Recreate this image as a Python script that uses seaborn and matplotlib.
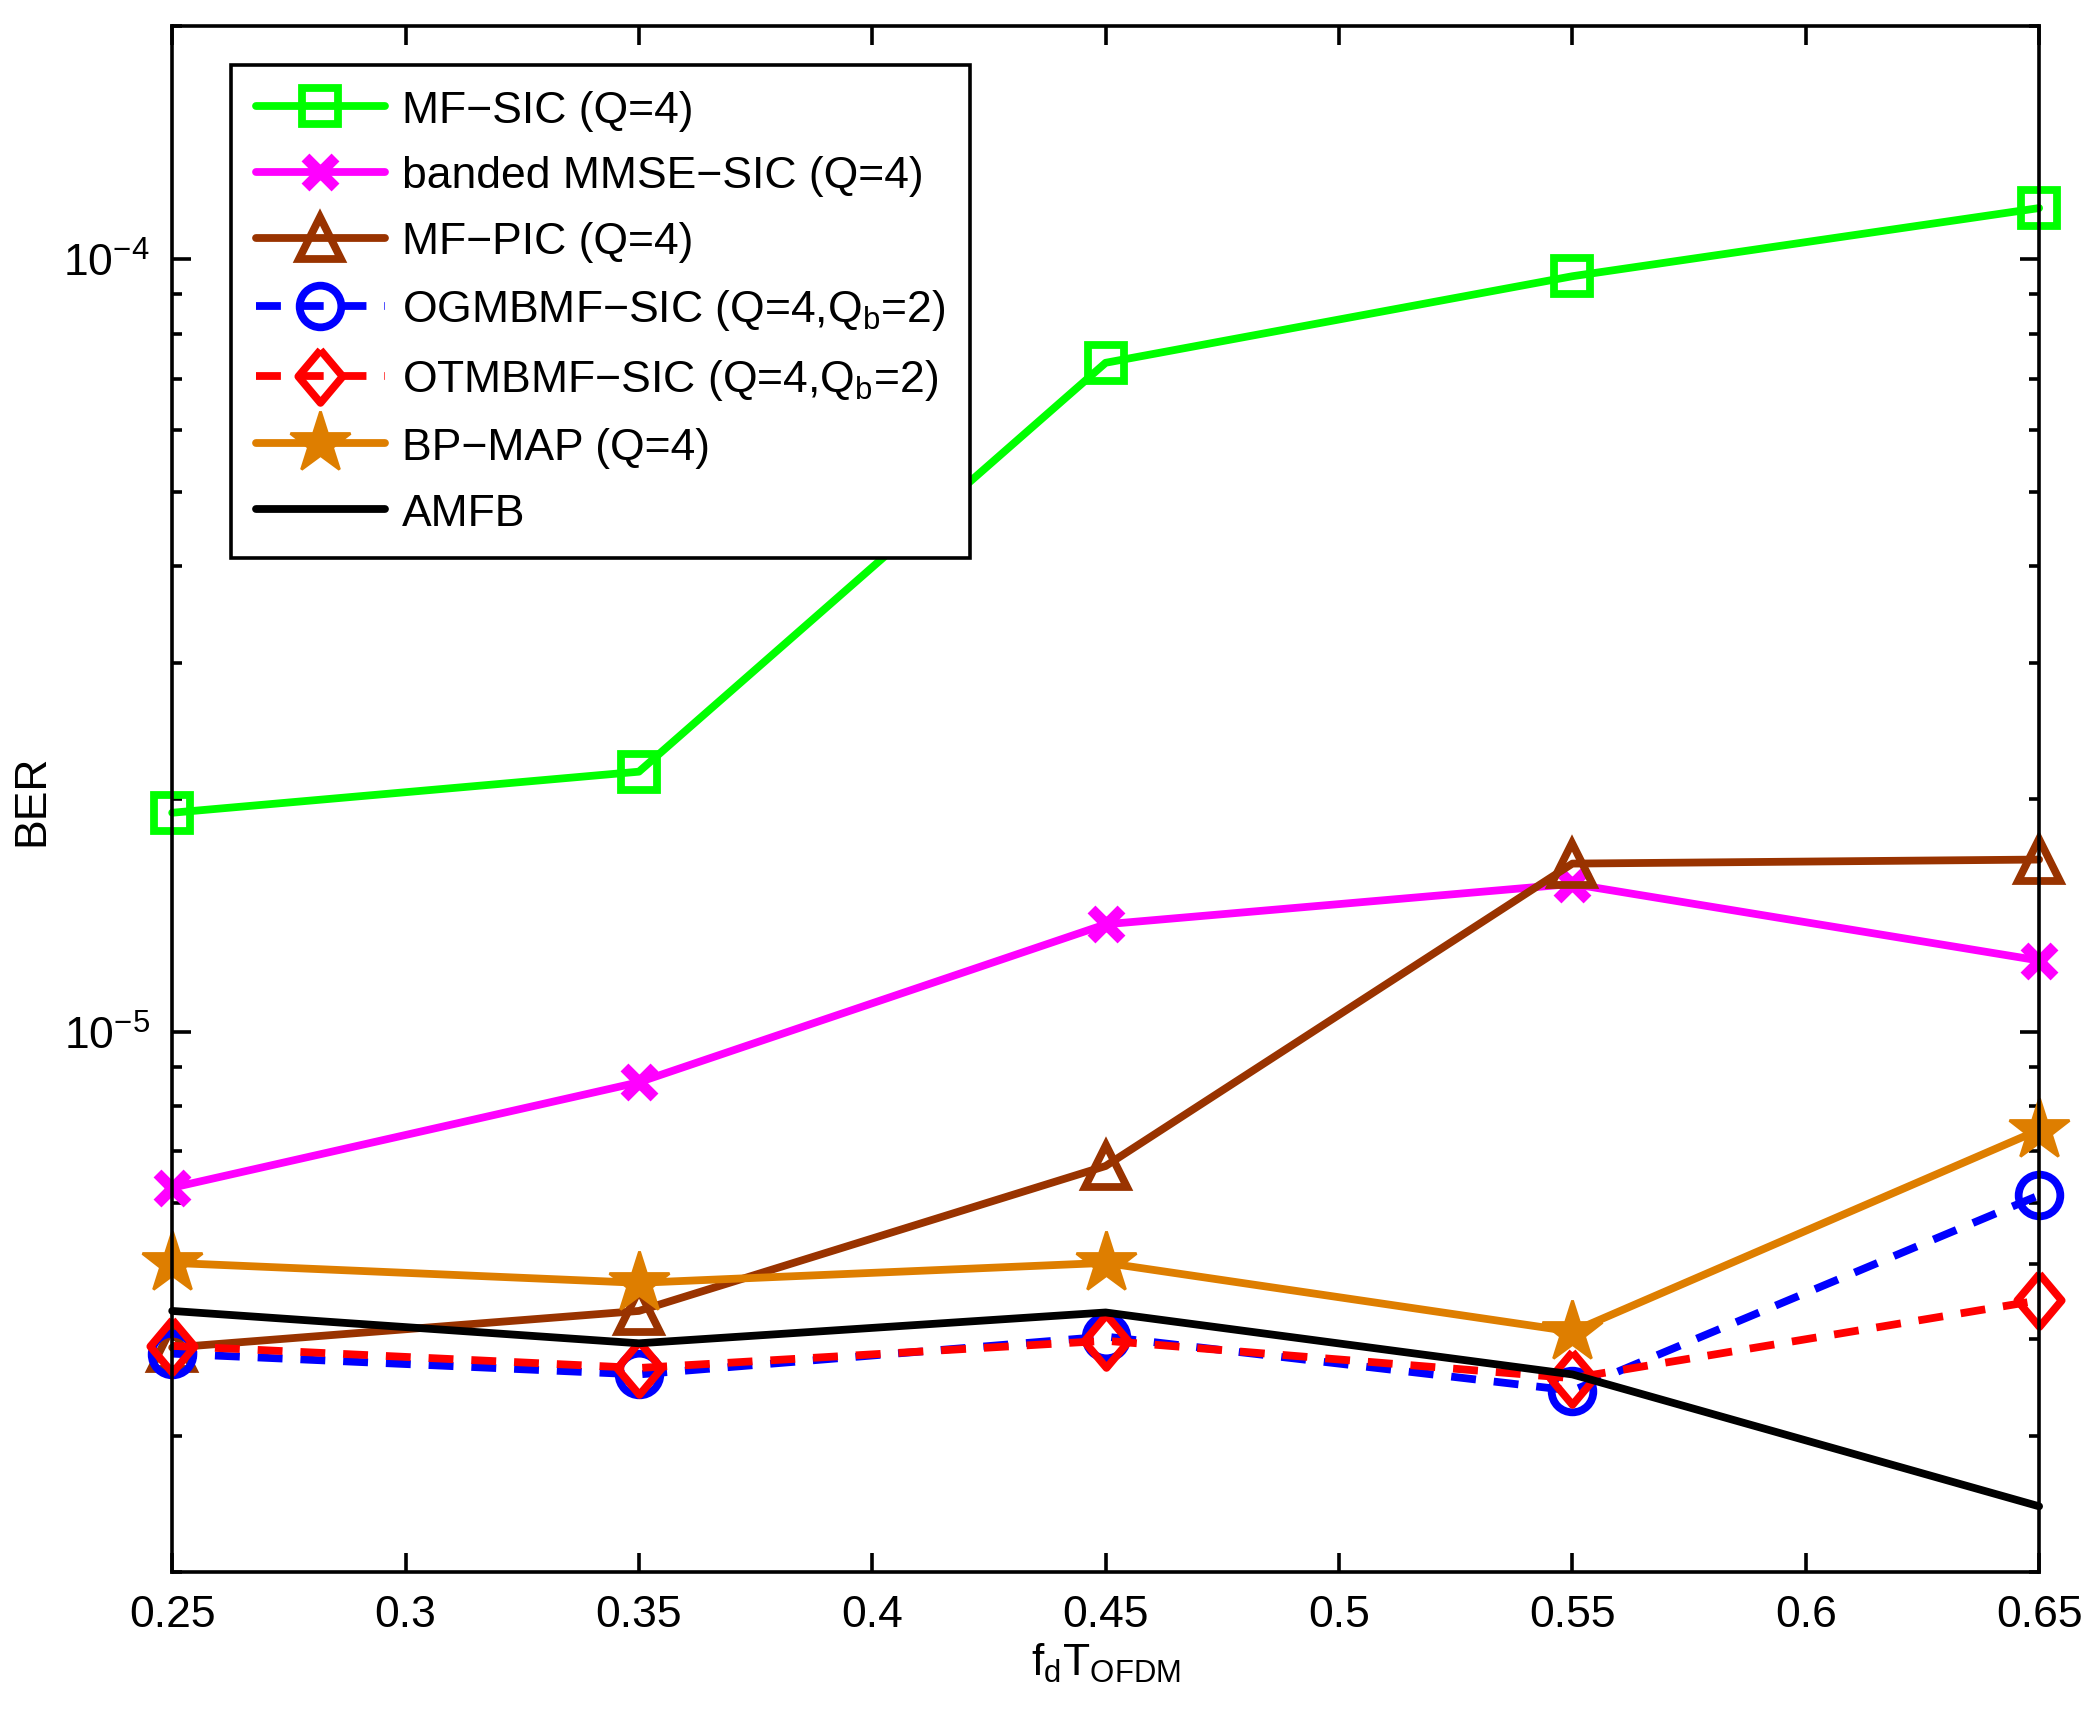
import numpy as np
import pandas as pd
import seaborn as sns
import matplotlib.pyplot as plt

# x axis: normalised Doppler
fd_t = [0.25, 0.35, 0.45, 0.55, 0.65]

# BER curves
ber_mf_sic = [1.92e-5, 2.17e-5, 7.34e-5, 9.5e-5, 1.164e-4]
ber_mmse_sic = [6.28e-6, 8.6e-6, 1.377e-5, 1.553e-5, 1.236e-5]
ber_mf_pic = [3.90e-6, 4.35e-6, 6.7e-6, 1.65e-5, 1.67e-5]
ber_ogmbmf = [3.83e-6, 3.60e-6, 4.03e-6, 3.43e-6, 6.14e-6]
ber_otmbmf = [3.92e-6, 3.67e-6, 3.98e-6, 3.56e-6, 4.49e-6]
ber_bp_map = [5.02e-6, 4.73e-6, 5.02e-6, 4.09e-6, 7.46e-6]
ber_amfb = [4.35e-6, 3.95e-6, 4.33e-6, 3.60e-6, 2.43e-6]

labels = ['MF\u2212SIC (Q=4)',
          'banded MMSE\u2212SIC (Q=4)',
          'MF\u2212PIC (Q=4)',
          'OGMBMF\u2212SIC (Q=4,Q$_\\mathregular{b}$=2)',
          'OTMBMF\u2212SIC (Q=4,Q$_\\mathregular{b}$=2)',
          'BP\u2212MAP (Q=4)',
          'AMFB']

sns.set_style("ticks")
plt.rcParams['font.family'] = ['Liberation Sans', 'DejaVu Sans']
plt.rcParams['mathtext.fontset'] = 'custom'
plt.rcParams['mathtext.rm'] = 'Liberation Sans'
plt.rcParams['mathtext.it'] = 'Liberation Sans'
plt.rcParams['xtick.direction'] = 'in'
plt.rcParams['ytick.direction'] = 'in'
plt.rcParams['text.color'] = 'black'
plt.rcParams['axes.labelcolor'] = 'black'
plt.rcParams['xtick.color'] = 'black'
plt.rcParams['ytick.color'] = 'black'
plt.rcParams['axes.edgecolor'] = 'black'

fig = plt.figure(figsize=(10.5, 8.575), dpi=200)
ax = fig.add_axes([0.082, 0.083, 0.889, 0.901])

# MATLAB-like diamond, a bit taller than wide
diamond = [(0, 1), (0.84, 0), (0, -1), (-0.84, 0), (0, 1)]

# style per curve: colour, marker, marker size, dashed?
styles = [
    ('#00ff00', 's', 13, False),
    ('#ff00ff', 'x', 11, False),
    ('#993300', '^', 15, False),
    ('#0000ff', 'o', 15, True),
    ('#ff0000', diamond, 19, True),
    ('#de7e00', '*', 23, False),
    ('#000000', None, 0, False),
]
series = [ber_mf_sic, ber_mmse_sic, ber_mf_pic, ber_ogmbmf,
          ber_otmbmf, ber_bp_map, ber_amfb]

for vals, lab, (col, mk, ms, dashed) in zip(series, labels, styles):
    df = pd.DataFrame({'x': fd_t, 'ber': vals})
    kw = dict(color=col, lw=2.8, label=lab, clip_on=False)
    if mk is not None:
        kw.update(marker=mk, markersize=ms,
                  markerfacecolor=col if isinstance(mk, str) and mk == '*' else 'none',
                  markeredgecolor=col, markeredgewidth=2.8)
        if isinstance(mk, str) and mk == 'x':
            kw.update(markeredgewidth=4)
        if isinstance(mk, str) and mk == '*':
            kw.update(markeredgewidth=1)
    if dashed:
        kw.update(linestyle=(0, (3.2, 2.3)))
    sns.lineplot(data=df, x='x', y='ber', ax=ax, **kw)

ax.set_yscale('log')
ax.set_xlim(0.25, 0.65)
ax.set_ylim(2e-6, 2e-4)
ax.set_xticks([0.25, 0.3, 0.35, 0.4, 0.45, 0.5, 0.55, 0.6, 0.65])
ax.set_xticklabels(['0.25', '0.3', '0.35', '0.4', '0.45', '0.5', '0.55', '0.6', '0.65'])
ax.tick_params(which='both', top=True, right=True, labelsize=16, width=1.3)
ax.tick_params(which='major', length=7, pad=8)
ax.tick_params(which='minor', length=3.5)
for sp in ax.spines.values():
    sp.set_linewidth(1.3)

ax.set_xlabel(r'$\mathregular{f_dT_{OFDM}}$', fontsize=16, labelpad=2)
ax.set_ylabel('BER', fontsize=16, labelpad=4)

leg = ax.legend(loc='upper left', bbox_to_anchor=(0.0316, 0.975), fontsize=16,
                handlelength=2.9, handletextpad=0.4, labelspacing=0.56,
                borderpad=0.55, borderaxespad=0,
                fancybox=False, frameon=True, framealpha=1, edgecolor='black')
leg.get_frame().set_linewidth(1.3)

fig.savefig('out.png', dpi=200)
